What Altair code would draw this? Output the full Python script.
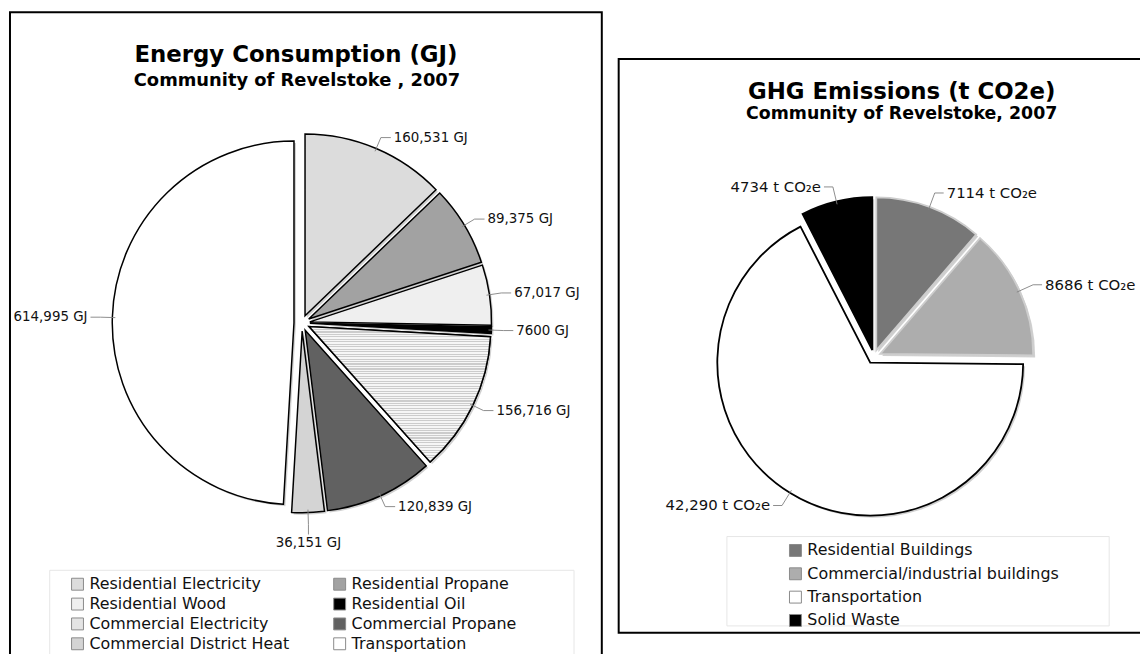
import altair as alt
import pandas as pd

# ---------------- data ----------------
energy_cats = ["Residential Electricity", "Residential Propane", "Residential Wood",
               "Residential Oil", "Commercial Electricity", "Commercial Propane",
               "Commercial District Heat", "Transportation"]
energy_vals = [160531, 89375, 67017, 7600, 156716, 120839, 36151, 614995]
energy_labels = ["160,531 GJ", "89,375 GJ", "67,017 GJ", "7600 GJ", "156,716 GJ",
                 "120,839 GJ", "36,151 GJ", "614,995 GJ"]
energy_colors = ["#dcdcdc", "#a2a2a2", "#efefef", "#000000", "#e4e4e4",
                 "#616161", "#d4d4d4", "#ffffff"]

ghg_cats = ["Residential Buildings", "Commercial/industrial buildings",
            "Transportation", "Solid Waste"]
ghg_vals = [7114, 8686, 42290, 4734]
ghg_labels = ["7114 t CO\u2082e", "8686 t CO\u2082e", "42,290 t CO\u2082e", "4734 t CO\u2082e"]
ghg_colors = ["#777777", "#adadad", "#ffffff", "#000000"]
ghg_grey_edged = ["Residential Buildings", "Commercial/industrial buildings"]

FONT = "DejaVu Sans"

df_e = pd.DataFrame({"i": range(len(energy_cats)), "cat": energy_cats,
                     "value": energy_vals, "label": energy_labels})
df_g = pd.DataFrame({"i": range(len(ghg_cats)), "cat": ghg_cats,
                     "value": ghg_vals, "label": ghg_labels})

# horizontal hatch for "Commercial Electricity"
stops = []
N = 55
for k in range(N):
    a, b, c = k / N, (k + 0.45) / N, (k + 1) / N
    stops += [alt.GradientStop(offset=a, color="#cccccc"),
              alt.GradientStop(offset=b, color="#cccccc"),
              alt.GradientStop(offset=b, color="#f6f6f6"),
              alt.GradientStop(offset=c, color="#f6f6f6")]
hatch = alt.LinearGradient(gradient="linear", stops=stops, x1=0, x2=0, y1=0, y2=1)


def pie(df, cats, colors, CX, CY, R, D, L, H, fs, legend, hatch_cat=None, grey_edged=()):
    base = (alt.Chart(df)
            .transform_window(cum="sum(value)", sort=[alt.SortField("i")], frame=[None, 0])
            .transform_joinaggregate(total="sum(value)")
            .transform_calculate(
                t0="2*PI*(datum.cum-datum.value)/datum.total",
                t1="2*PI*datum.cum/datum.total",
                mid="PI*(2*datum.cum-datum.value)/datum.total",
                ux="sin(datum.mid)",
                uy="-cos(datum.mid)",
                cx=f"{CX}+{D}*datum.ux",
                cy=f"{CY}+{D}*datum.uy",
                sx="datum.cx+2",
                sy="datum.cy+2",
                x1=f"datum.cx+{R - 3}*datum.ux",
                y1=f"datum.cy+{R - 3}*datum.uy",
                x2=f"datum.cx+{R + L}*datum.ux",
                y2=f"datum.cy+{R + L}*datum.uy",
                side="datum.ux>0.15?1:(datum.ux<-0.15?-1:0)",
                x3=f"datum.x2+{H}*datum.side",
                y3=f"datum.side==0?datum.y2+{H}*(datum.uy>0?1:-1):datum.y2",
                tx="datum.x3+3*datum.side",
                ty="datum.side==0?datum.y3+(datum.uy>0?9:-9):datum.y3",
            ))
    X = lambda f: alt.X(f, type="quantitative", scale=None, axis=None)
    Y = lambda f: alt.Y(f, type="quantitative", scale=None, axis=None)
    TH = alt.Theta("t0:Q", scale=None, stack=None)
    TH2 = alt.Theta2("t1:Q")

    shadow = base.mark_arc(radius=R, fill="#bcbcbc", opacity=0.7).encode(
        x=X("sx"), y=Y("sy"), theta=TH, theta2=TH2)
    enc = dict(x=X("cx"), y=Y("cy"), theta=TH, theta2=TH2,
               color=alt.Color("cat:N", scale=alt.Scale(domain=cats, range=colors),
                               sort=cats, legend=legend))
    if grey_edged:
        enc["stroke"] = alt.condition(alt.FieldOneOfPredicate(field="cat", oneOf=list(grey_edged)),
                                      alt.value("#cdcdcd"), alt.value("black"))
        arcs = base.mark_arc(radius=R, strokeWidth=1.8).encode(**enc)
    else:
        arcs = base.mark_arc(radius=R, stroke="black", strokeWidth=1.5).encode(**enc)
    layers = [shadow, arcs]
    if hatch_cat is not None:
        layers.append(base.transform_filter(alt.datum.cat == hatch_cat)
                      .mark_arc(radius=R, stroke="black", strokeWidth=1.5, fill=hatch)
                      .encode(x=X("cx"), y=Y("cy"), theta=TH, theta2=TH2))
    lead1 = base.mark_rule(color="#808080", strokeWidth=0.9).encode(
        x=X("x1"), y=Y("y1"), x2="x2:Q", y2="y2:Q")
    lead2 = base.mark_rule(color="#808080", strokeWidth=0.9).encode(
        x=X("x2"), y=Y("y2"), x2="x3:Q", y2="y3:Q")
    layers += [lead1, lead2]
    for cond, al in [("datum.side==1", "left"), ("datum.side==-1", "right"),
                     ("datum.side==0", "center")]:
        layers.append(base.transform_filter(cond)
                      .mark_text(align=al, baseline="middle", font=FONT,
                                 fontSize=fs, color="#111111")
                      .encode(x=X("tx"), y=Y("ty"), text="label:N"))
    return layers


leg_common = dict(title=None, orient="none", symbolType="square", symbolSize=144,
                  symbolStrokeColor="#8a8a8a", symbolStrokeWidth=1,
                  labelFont=FONT, labelFontSize=16, labelColor="#111111",
                  labelOffset=4, padding=0, labelLimit=500)

# legend shown in two columns, read row by row
energy_legend_order = energy_cats[0::2] + energy_cats[1::2]
energy_legend = alt.Legend(values=energy_legend_order, legendX=62, legendY=570,
                           columns=2, columnPadding=42, rowPadding=4, **leg_common)
ghg_legend = alt.Legend(legendX=785, legendY=536, columns=1, rowPadding=7.5,
                        **leg_common)

one = alt.Data(values=[{}])


def rect(x, x2, y, y2, color, width):
    return alt.Chart(one).mark_rect(filled=False, stroke=color, strokeWidth=width).encode(
        x=alt.value(x), x2=alt.value(x2), y=alt.value(y), y2=alt.value(y2))


def title(txt, x, y, size):
    return alt.Chart(one).mark_text(text=txt, font=FONT, fontWeight="bold", fontSize=size,
                                    align="center", baseline="middle", color="black").encode(
        x=alt.value(x), y=alt.value(y))


frames = [
    rect(2, 598, 2, 680, "black", 2),
    rect(615, 1160, 49, 627, "black", 2),
    rect(42, 570, 564, 680, "#e6e6e6", 1),
    rect(724, 1109, 530, 620, "#e6e6e6", 1),
]
titles = [
    title("Energy Consumption (GJ)", 290, 45, 23),
    title("Community of Revelstoke , 2007", 291, 71, 18),
    title("GHG Emissions (t CO2e)", 900, 82, 23),
    title("Community of Revelstoke, 2007", 900, 104, 17.5),
]

energy_layers = pie(df_e, energy_cats, energy_colors, 296, 315, 183, 8, 12, 10, 13.5,
                    energy_legend, hatch_cat="Commercial Electricity")
ghg_layers = pie(df_g, ghg_cats, ghg_colors, 872, 349, 154, 7, 15, 9, 15, ghg_legend,
                 grey_edged=ghg_grey_edged)

chart = (alt.layer(*frames, *titles, *energy_layers, *ghg_layers)
         .resolve_scale(color="independent")
         .properties(width=1140, height=646, padding=0, background="white",
                     autosize=alt.AutoSizeParams(type="none"))
         .configure_view(stroke=None))

chart.save("out.html", embed_options={"renderer": "svg", "actions": False})
